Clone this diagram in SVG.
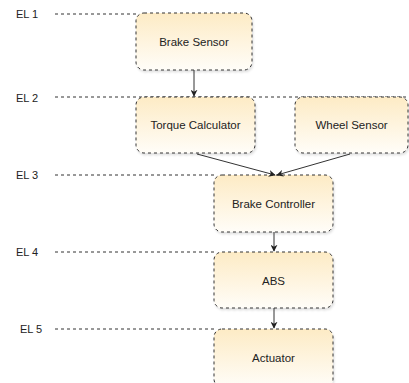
<svg xmlns="http://www.w3.org/2000/svg" width="409" height="383" viewBox="0 0 409 383">
<defs>
<linearGradient id="g" x1="0" y1="0" x2="0" y2="1">
<stop offset="0" stop-color="#fdebc5"/>
<stop offset="1" stop-color="#fffdf8"/>
</linearGradient>
<marker id="arr" viewBox="0 0 10 10" refX="9" refY="5" markerWidth="7" markerHeight="7" orient="auto" markerUnits="userSpaceOnUse">
<path d="M0,0 L10,5 L0,10 L3,5 Z" fill="#222"/>
</marker>
<filter id="sh" x="-10%" y="-10%" width="130%" height="130%">
<feDropShadow dx="1" dy="2" stdDeviation="1" flood-color="#000" flood-opacity="0.12"/>
</filter>
</defs>
<style>
.lvl{stroke:#333;stroke-width:1;stroke-dasharray:3 3;fill:none}
.box{fill:url(#g);stroke:#333;stroke-width:1;stroke-dasharray:3 3}
.t{font-family:"Liberation Sans",Arial,sans-serif;font-size:11.5px;fill:#222;text-anchor:middle;dominant-baseline:central}
.lab{font-family:"Liberation Sans",Arial,sans-serif;font-size:11px;fill:#222;dominant-baseline:central}
.c{stroke:#333;stroke-width:1;fill:none;marker-end:url(#arr)}
</style>
<g id="levels">
<text class="lab" x="16" y="14">EL 1</text>
<line class="lvl" x1="55" y1="14" x2="137" y2="14"/>
<text class="lab" x="16" y="98">EL 2</text>
<line class="lvl" x1="55" y1="97" x2="409" y2="97"/>
<text class="lab" x="16" y="175">EL 3</text>
<line class="lvl" x1="55" y1="175" x2="215" y2="175"/>
<text class="lab" x="16" y="252">EL 4</text>
<line class="lvl" x1="55" y1="252" x2="215" y2="252"/>
<text class="lab" x="20" y="329">EL 5</text>
<line class="lvl" x1="55" y1="329" x2="215" y2="329"/>
</g>
<g id="brake-sensor">
<rect class="box" x="136" y="13" width="116" height="57" rx="8" filter="url(#sh)"/>
<text class="t" x="194" y="42">Brake Sensor</text>
</g>
<g id="torque-calculator">
<rect class="box" x="136" y="97" width="119" height="56" rx="8" filter="url(#sh)"/>
<text class="t" x="195.5" y="125">Torque Calculator</text>
</g>
<g id="wheel-sensor">
<rect class="box" x="295" y="97" width="113" height="56" rx="8" filter="url(#sh)"/>
<text class="t" x="351.5" y="125">Wheel Sensor</text>
</g>
<g id="brake-controller">
<rect class="box" x="214" y="175" width="119" height="57" rx="8" filter="url(#sh)"/>
<text class="t" x="273.5" y="204">Brake Controller</text>
</g>
<g id="abs">
<rect class="box" x="214" y="252" width="119" height="56" rx="8" filter="url(#sh)"/>
<text class="t" x="273.5" y="281">ABS</text>
</g>
<g id="actuator">
<rect class="box" x="214" y="329" width="119" height="58" rx="8" filter="url(#sh)"/>
<text class="t" x="273.5" y="358">Actuator</text>
</g>
<g id="connectors">
<line class="c" x1="194" y1="70" x2="194" y2="96"/>
<line class="c" x1="197" y1="154" x2="275" y2="175"/>
<line class="c" x1="350" y1="154" x2="277" y2="175"/>
<line class="c" x1="274" y1="232" x2="274" y2="251"/>
<line class="c" x1="274" y1="308" x2="274" y2="328"/>
</g>
</svg>
